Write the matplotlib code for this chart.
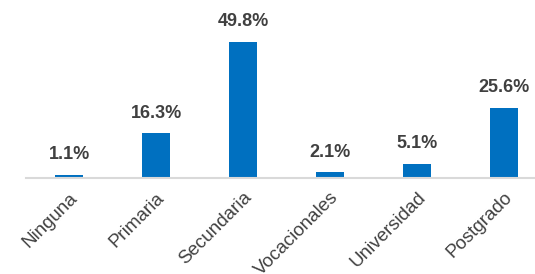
import matplotlib.pyplot as plt

categories = ['Ninguna', 'Primaria', 'Secundaria', 'Vocacionales', 'Universidad', 'Postgrado']
values = [1.1, 16.3, 49.8, 2.1, 5.1, 25.6]

plt.rcParams['font.family'] = ['Liberation Sans', 'DejaVu Sans']

fig = plt.figure(figsize=(5.35, 2.74), dpi=100)
# axes run a bit past the right edge, as in the original
ax = fig.add_axes([25.5 / 535, 96 / 274, 522 / 535, 164 / 274])
x = range(len(categories))
ax.bar(x, values, width=0.32, color='#0070C0')

for i, v in zip(x, values):
    ax.text(i, v + 4.3, '%.1f%%' % v, ha='center', va='bottom',
            fontsize=13, fontweight='bold', color='#404040', clip_on=False)

ax.set_xlim(-0.5, len(categories) - 0.5)
ax.set_ylim(0, 60)
ax.set_xticks(list(x))
ax.set_xticklabels(categories, rotation=45, ha='right', rotation_mode='anchor',
                   fontsize=13.5, color='#404040')
ax.tick_params(axis='x', length=0, pad=8)
ax.set_yticks([])
for s in ['top', 'right', 'left']:
    ax.spines[s].set_visible(False)
ax.spines['bottom'].set_color('#D9D9D9')
ax.spines['bottom'].set_linewidth(1.5)

fig.savefig('out.png', dpi=100)
